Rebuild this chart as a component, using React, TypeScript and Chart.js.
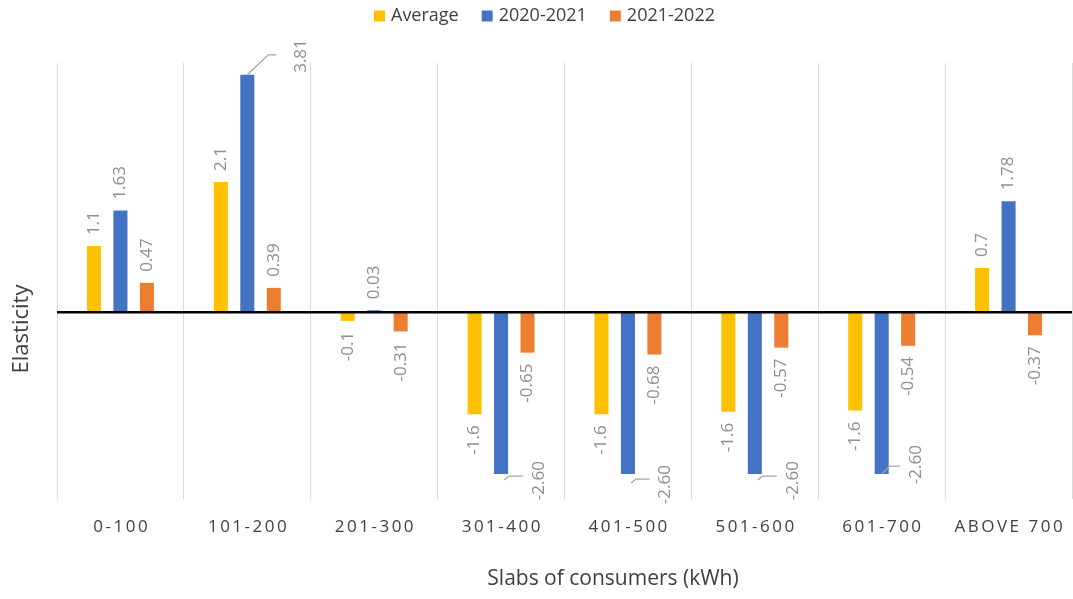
import React, { useEffect, useRef } from "react";
import { Chart, registerables } from "chart.js";

Chart.register(...registerables);

// ---- data ----
const categories = ["0-100", "101-200", "201-300", "301-400", "401-500", "501-600", "601-700", "ABOVE 700"];
const seriesNames = ["Average", "2020-2021", "2021-2022"];
const averageValues = [1.06, 2.09, -0.14, -1.64, -1.64, -1.6, -1.58, 0.71];
const values2020to2021 = [1.63, 3.81, 0.03, -2.6, -2.6, -2.6, -2.6, 1.78];
const values2021to2022 = [0.47, 0.39, -0.31, -0.65, -0.68, -0.57, -0.54, -0.37];
const labelDecimals = [1, 2, 2];
const yMin = -3;
const yMax = 4;

// ---- styles ----
const colors = ["#FFC000", "#4472C4", "#ED7D31"];
const FONT = "'Open Sans', 'DejaVu Sans', sans-serif";
const LABEL_COLOR = "#8f8f8f";
const TEXT_COLOR = "#404040";
const LEADER_COLOR = "#a6a6a6";

// callout (leader line) styling for specific labels: offsets relative to bar centre / bar end
const callouts: Record<string, { line: number[][]; dx: number; dy: number }> = {
  "1-1": { line: [[0, 0], [21, -20], [29, -20]], dx: 54, dy: -2 },
  "1-3": { line: [[3, 6], [8, 2], [22, 2]], dx: 38, dy: -13 },
  "1-4": { line: [[3, 9], [8, 5], [22, 5]], dx: 37, dy: -9 },
  "1-5": { line: [[3, 6], [8, 2], [22, 2]], dx: 38, dy: -13 },
  "1-6": { line: [[0, 0], [8, -8], [18, -8]], dx: 34, dy: -29 },
};

const decorPlugin = {
  id: "decor",
  afterDatasetsDraw(chart: any) {
    const ctx = chart.ctx as CanvasRenderingContext2D;
    const area = chart.chartArea;
    const yScale = chart.scales.y;
    const xScale = chart.scales.x;

    // zero line
    const y0 = yScale.getPixelForValue(0);
    ctx.save();
    ctx.strokeStyle = "#000000";
    ctx.lineWidth = 2.5;
    ctx.beginPath();
    ctx.moveTo(area.left, y0);
    ctx.lineTo(area.right, y0);
    ctx.stroke();
    ctx.restore();

    // data labels
    chart.data.datasets.forEach((ds: any, di: number) => {
      const meta = chart.getDatasetMeta(di);
      meta.data.forEach((el: any, i: number) => {
        const v = ds.data[i] as number;
        const text = v.toFixed(labelDecimals[di]);
        const positive = v >= 0;
        const cx = el.x;
        const end = el.y;
        const co = callouts[`${di}-${i}`];
        ctx.save();
        if (co) {
          ctx.strokeStyle = LEADER_COLOR;
          ctx.lineWidth = 1.3;
          ctx.beginPath();
          co.line.forEach((p, k) => {
            if (k === 0) ctx.moveTo(cx + p[0], end + p[1]);
            else ctx.lineTo(cx + p[0], end + p[1]);
          });
          ctx.stroke();
        }
        const ax = co ? cx + co.dx : cx;
        const ay = co ? end + co.dy : positive ? end - 11 : end + 11;
        ctx.translate(ax, ay);
        ctx.rotate(-Math.PI / 2);
        ctx.font = `17px ${FONT}`;
        ctx.fillStyle = LABEL_COLOR;
        ctx.textBaseline = "middle";
        ctx.textAlign = positive ? "left" : "right";
        ctx.fillText(text, 0, 0);
        ctx.restore();
      });
    });

    // x tick labels
    ctx.save();
    ctx.font = `17px ${FONT}`;
    ctx.fillStyle = TEXT_COLOR;
    ctx.textAlign = "center";
    ctx.textBaseline = "middle";
    const spacing = 2.5;
    (ctx as any).letterSpacing = `${spacing}px`;
    categories.forEach((c, i) => {
      ctx.fillText(c, xScale.getPixelForValue(i) + spacing / 2, 527);
    });
    ctx.restore();

    // axis titles
    ctx.save();
    ctx.font = `21px ${FONT}`;
    ctx.fillStyle = TEXT_COLOR;
    ctx.textAlign = "center";
    ctx.textBaseline = "middle";
    ctx.fillText("Slabs of consumers (kWh)", 613, 579);
    ctx.translate(22, 329);
    ctx.rotate(-Math.PI / 2);
    ctx.font = `22px ${FONT}`;
    ctx.fillText("Elasticity", 0, 0);
    ctx.restore();

    // legend
    ctx.save();
    ctx.font = `18px ${FONT}`;
    ctx.textBaseline = "middle";
    ctx.textAlign = "left";
    let lx = 374;
    const ly = 16;
    seriesNames.forEach((name, k) => {
      ctx.fillStyle = colors[k];
      ctx.fillRect(lx, ly - 5.5, 11, 11);
      lx += 17;
      ctx.fillStyle = TEXT_COLOR;
      ctx.fillText(name, lx, ly);
      lx += ctx.measureText(name).width + 23;
    });
    ctx.restore();
  },
};

export default function App() {
  const canvasRef = useRef<HTMLCanvasElement | null>(null);

  useEffect(() => {
    const canvas = canvasRef.current;
    if (!canvas) return;
    const seriesValues = [averageValues, values2020to2021, values2021to2022];
    const chart = new Chart(canvas, {
      type: "bar",
      data: {
        labels: categories,
        datasets: seriesNames.map((name, k) => ({
          label: name,
          data: seriesValues[k],
          backgroundColor: colors[k],
          borderWidth: 0,
          categoryPercentage: 0.626,
          barPercentage: 0.53,
        })),
      },
      options: {
        responsive: false,
        animation: false,
        layout: { padding: { top: 63, right: 1, left: 0, bottom: 0 } },
        plugins: {
          legend: { display: false },
          tooltip: { enabled: false },
          title: { display: false },
        },
        scales: {
          x: {
            grid: {
              display: true,
              offset: true,
              color: "#d9d9d9",
              lineWidth: 1,
              drawTicks: false,
            },
            border: { display: false },
            ticks: { display: false },
            afterFit: (scale: any) => {
              scale.height = 100;
            },
          },
          y: {
            min: yMin,
            max: yMax,
            grid: { display: false },
            border: { display: false },
            ticks: { display: false, stepSize: 1 },
            afterFit: (scale: any) => {
              scale.width = 57;
            },
          },
        },
      },
      plugins: [decorPlugin],
    });
    return () => chart.destroy();
  }, []);

  return (
    <div style={{ position: "absolute", left: 0, top: 0, width: 1073, height: 599, background: "#ffffff" }}>
      <canvas ref={canvasRef} width={1073} height={599} />
    </div>
  );
}
